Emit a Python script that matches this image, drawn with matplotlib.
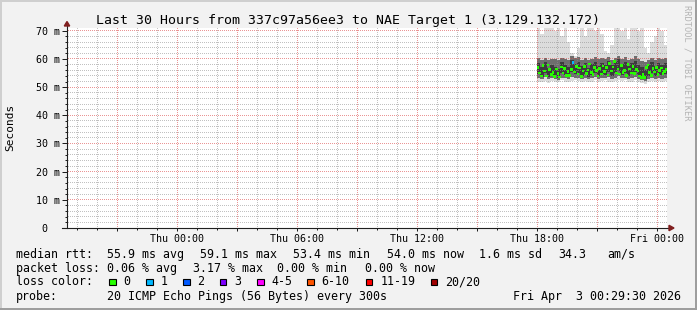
import numpy as np
import pandas as pd
import matplotlib
matplotlib.use('Agg')
import matplotlib.pyplot as plt
import matplotlib.dates as mdates
from matplotlib.patches import Rectangle, Polygon
from matplotlib.lines import Line2D
from matplotlib.ticker import MultipleLocator, FuncFormatter

plt.rcParams['font.family'] = 'DejaVu Sans Mono'

W, H = 697, 310

start = '2026-04-02 18:00'

# median rtt per 5 minute ping round, ms
median = [56.9, 55.1, 54.0, 57.6, 55.8, 53.9, 57.9, 56.2, 54.4, 55.3,
          53.7, 56.5, 54.8, 53.6, 57.1, 55.0, 56.7, 54.2, 55.6, 54.1,
          56.3, 58.7, 55.4, 57.3, 54.6, 56.8, 53.8, 55.7, 57.4, 54.9,
          56.1, 58.2, 55.2, 54.5, 57.0, 55.9, 53.9, 56.6, 54.7, 57.5,
          55.5, 56.9, 54.3, 58.4, 55.8, 57.2, 59.1, 55.0, 56.4, 54.6,
          57.7, 55.3, 56.0, 54.2, 58.0, 56.5, 55.1, 57.3, 54.8, 56.2,
          55.7, 54.0, 53.5, 54.4, 53.4, 56.9, 57.8, 55.2, 54.1, 56.7,
          55.4, 57.0, 54.5, 55.9, 56.8, 54.9, 55.6, 56.3]
lost_pings = [0] * 21 + [1] + [0] * 56

# smoke (ping spread) per 10 minutes, ms
smoke_min = [52.0, 51.8, 52.3, 51.6, 52.1, 51.9, 51.7, 52.4, 52.0, 51.8,
             52.2, 52.5, 52.1, 51.9, 52.3, 51.7, 52.0, 52.6, 51.8, 52.2,
             52.4, 52.0, 51.9, 52.3, 52.7, 52.1, 52.4, 51.8, 52.0, 52.5,
             51.9, 51.6, 51.2, 51.8, 52.3, 51.9, 52.1, 51.8, 52.2]
smoke_p10 = [53.2, 52.9, 53.5, 52.8, 53.1, 53.0, 52.7, 53.4, 53.1, 52.9,
             53.6, 53.3, 53.4, 53.0, 53.2, 52.8, 53.1, 53.6, 52.9, 53.3,
             53.2, 53.5, 53.0, 53.3, 53.8, 53.1, 53.4, 52.9, 53.1, 53.6,
             53.0, 52.6, 52.2, 52.8, 53.4, 53.0, 53.2, 52.9, 53.3]
smoke_p25 = [54.8, 53.7, 55.2, 53.5, 54.2, 53.8, 53.4, 54.9, 54.3, 53.6,
             55.4, 54.5, 55.0, 54.0, 54.6, 53.5, 54.4, 55.1, 53.9, 54.7,
             54.3, 55.3, 54.1, 54.9, 55.8, 54.4, 55.2, 54.0, 54.5, 55.5,
             54.2, 53.7, 53.0, 54.1, 55.0, 54.0, 54.8, 54.2, 54.6]
smoke_p75 = [58.6, 57.2, 58.9, 56.8, 57.9, 57.0, 56.6, 58.8, 58.0, 57.1,
             59.6, 58.3, 59.0, 57.6, 58.5, 56.9, 58.2, 59.0, 57.4, 58.6,
             58.0, 59.2, 57.7, 58.8, 60.0, 58.1, 59.1, 57.5, 58.4, 59.4,
             57.9, 57.0, 56.2, 58.0, 58.9, 57.6, 58.7, 57.8, 58.5]
smoke_p90 = [60.2, 59.8, 60.5, 59.6, 60.1, 59.9, 59.5, 60.4, 60.0, 59.7,
             61.0, 60.3, 60.8, 59.8, 60.2, 59.6, 60.0, 60.6, 59.9, 60.3,
             60.1, 60.7, 59.8, 60.4, 61.2, 60.0, 60.6, 59.7, 60.1, 60.9,
             59.9, 59.4, 58.8, 59.6, 60.5, 59.8, 60.3, 59.9, 60.2]
smoke_max = [71.5, 69.0, 71.5, 71.5, 71.5, 70.0, 71.5, 68.0, 71.5, 66.0,
             62.0, 61.0, 64.0, 71.5, 68.0, 71.5, 71.5, 70.0, 71.5, 69.0,
             63.0, 62.0, 65.0, 71.5, 71.5, 70.0, 71.5, 67.0, 71.5, 71.5,
             70.0, 71.5, 64.0, 62.0, 66.0, 68.0, 71.5, 70.0, 65.0]

loss_colors = ['#26ff00', '#00b8ff', '#0059ff', '#7e00ff',
               '#ff00ff', '#ff5500', '#ff0000', '#a00000']
loss_labels = ['0', '1', '2', '3', '4-5', '6-10', '11-19', '20/20']
loss_box_x = [109, 146, 183, 220, 257, 307, 366, 431]

title = 'Last 30 Hours from 337c97a56ee3 to NAE Target 1 (3.129.132.172)'
rtt_items = [(16, 'median rtt:'), (107.3, '55.9 ms avg'), (200, '59.1 ms max'),
             (292.7, '53.4 ms min'), (386.7, '54.0 ms now'), (479.3, '1.6 ms sd'),
             (558.3, '34.3'), (607.3, 'am/s')]
loss_items = [(16, 'packet loss:'), (107.3, '0.06 % avg'), (193.3, '3.17 % max'),
              (276.7, '0.00 % min'), (365, '0.00 % now')]
probe_items = [(16, 'probe:'), (107.3, '20 ICMP Echo Pings (56 Bytes) every 300s')]
stamp = 'Fri Apr  3 00:29:30 2026'

GRID = (0.56, 0.56, 0.56, 0.55)
MGRID = (0.87, 0.31, 0.31, 0.6)


def fx(x):
    return x / W


def fy(y):
    return 1 - y / H


def stepped(v):
    return np.r_[v, v[-1]]


t_start = pd.Timestamp('2026-04-01 18:29:30')
t_end = pd.Timestamp('2026-04-03 00:29:30')
x0, x1 = mdates.date2num(t_start), mdates.date2num(t_end)
edges = pd.date_range(start, periods=len(smoke_min) + 1, freq='10min')
rounds = pd.date_range(start, periods=len(median), freq='5min') + pd.Timedelta('150s')

fig = plt.figure(figsize=(W / 100, H / 100), dpi=100, facecolor='#f2f2f2')
rect = [fx(67), fy(228), 600 / W, 200 / H]
ax = fig.add_axes(rect)
ax.set_facecolor('white')

ax.fill_between(edges, stepped(smoke_min), stepped(smoke_max), step='post',
                color='#dcdcdc', lw=0, zorder=1)
ax.fill_between(edges, stepped(smoke_p10), stepped(smoke_p90), step='post',
                color='#6e6e6e', lw=0, zorder=1.2)
ax.fill_between(edges, stepped(smoke_p25), stepped(smoke_p75), step='post',
                color='#3c3c3c', lw=0, zorder=1.4)

ax.set_xlim(x0, x1)
ax.set_ylim(0, 71)
for s in ax.spines.values():
    s.set_visible(False)

# median on a transparent axes above the grid
top = fig.add_axes(rect, zorder=1)
top.patch.set_alpha(0)
top.axis('off')
top.scatter(rounds, median, c=[loss_colors[l] for l in lost_pings], marker='s',
            s=3.4, lw=0)
top.set_xlim(x0, x1)
top.set_ylim(0, 71)

# dotted grid as a pixel overlay (1 on / 1 off like rrdtool)
overlay = np.zeros((200, 600, 4))
gl, gb = 67, H - 228


def vline(t, rgba):
    X = ax.transData.transform((mdates.date2num(t), 0))[0]
    c = int(np.floor(X - gl))
    if 0 <= c < 600:
        overlay[0::2, c] = rgba


def hline(v, rgba):
    Y = ax.transData.transform((x0, v))[1]
    r = int(np.floor(200 - (Y - gb)))
    if 0 <= r < 200:
        overlay[r, 1::2] = rgba


hours = pd.date_range('2026-04-01 19:00', t_end, freq='1h')
for h in hours:
    if h.hour % 3:
        vline(h, GRID)
for v in range(2, 72, 2):
    if v % 10:
        hline(v, GRID)
for h in hours:
    if h.hour % 3 == 0:
        vline(h, MGRID)
for v in range(10, 72, 10):
    hline(v, MGRID)
fig.figimage(overlay, xo=gl, yo=gb, origin='upper', zorder=0.5)

ax.xaxis.set_major_locator(mdates.HourLocator(byhour=range(0, 24, 3)))
ax.xaxis.set_minor_locator(mdates.HourLocator())


def xfmt(v, p):
    d = mdates.num2date(v)
    return d.strftime('%a %H:%M') if d.hour % 6 == 0 else ''


ax.xaxis.set_major_formatter(FuncFormatter(xfmt))
ax.yaxis.set_major_locator(MultipleLocator(10))
ax.yaxis.set_minor_locator(MultipleLocator(2))
ax.yaxis.set_major_formatter(FuncFormatter(lambda v, p: '0  ' if v == 0 else f'{v:.0f} m'))

ax.tick_params(axis='both', which='both', color='#1f1f1f', width=0.72, labelsize=7.2)
ax.tick_params(axis='y', which='major', length=3.6, pad=1.5)
ax.tick_params(axis='y', which='minor', length=1.8)
ax.tick_params(axis='x', which='major', length=2.2, pad=2.0)
ax.tick_params(axis='x', which='minor', length=1.4)

# axes and arrows
fig.add_artist(Line2D([fx(67), fx(67)], [fy(228), fy(25)], color='#1f1f1f', lw=0.8, zorder=2))
fig.add_artist(Line2D([fx(62), fx(670)], [fy(228), fy(228)], color='#1f1f1f', lw=0.8, zorder=2))
fig.add_artist(Polygon([(fx(64.3), fy(26)), (fx(69.7), fy(26)), (fx(67), fy(21.5))],
                       closed=True, color='#801f1f', transform=fig.transFigure, zorder=2))
fig.add_artist(Polygon([(fx(669), fy(225.3)), (fx(669), fy(230.7)), (fx(674), fy(228))],
                       closed=True, color='#801f1f', transform=fig.transFigure, zorder=2))

fig.text(fx(348.5), fy(24), title, ha='center', va='baseline', size=9.5)
fig.text(fx(10), fy(127), 'Seconds', rotation=90, ha='center', va='center', size=8)
fig.text(fx(687.5), fy(5), 'RRDTOOL / TOBI OETIKER', rotation=-90, ha='center', va='top',
         size=6.2, color='#b4b4b4')

for x, s in rtt_items:
    fig.text(fx(x), fy(257.7), s, ha='left', va='baseline', size=8.4)
for x, s in loss_items:
    fig.text(fx(x), fy(271.7), s, ha='left', va='baseline', size=8.4)
fig.text(fx(16), fy(285.3), 'loss color:', ha='left', va='baseline', size=8.4)
for x, c, lab in zip(loss_box_x, loss_colors, loss_labels):
    fig.add_artist(Rectangle((fx(x), fy(285)), 6.5 / W, 6.5 / H, facecolor=c,
                             edgecolor='black', lw=0.8, transform=fig.transFigure))
    fig.text(fx(x + 14.3), fy(285.3), lab, ha='left', va='baseline', size=8.4)
for x, s in probe_items:
    fig.text(fx(x), fy(300), s, ha='left', va='baseline', size=8.4)
fig.text(fx(681), fy(300), stamp, ha='right', va='baseline', size=8.4)

# frame shading
fig.add_artist(Rectangle((0, fy(2)), 1, 2 / H, color='#cfcfcf', lw=0, transform=fig.transFigure))
fig.add_artist(Rectangle((0, 0), 2 / W, 1, color='#cfcfcf', lw=0, transform=fig.transFigure))
fig.add_artist(Rectangle((0, 0), 1, 2 / H, color='#9e9e9e', lw=0, transform=fig.transFigure))
fig.add_artist(Rectangle((fx(695), 0), 2 / W, 1, color='#9e9e9e', lw=0, transform=fig.transFigure))

fig.savefig('out.png', dpi=100, facecolor=fig.get_facecolor())
